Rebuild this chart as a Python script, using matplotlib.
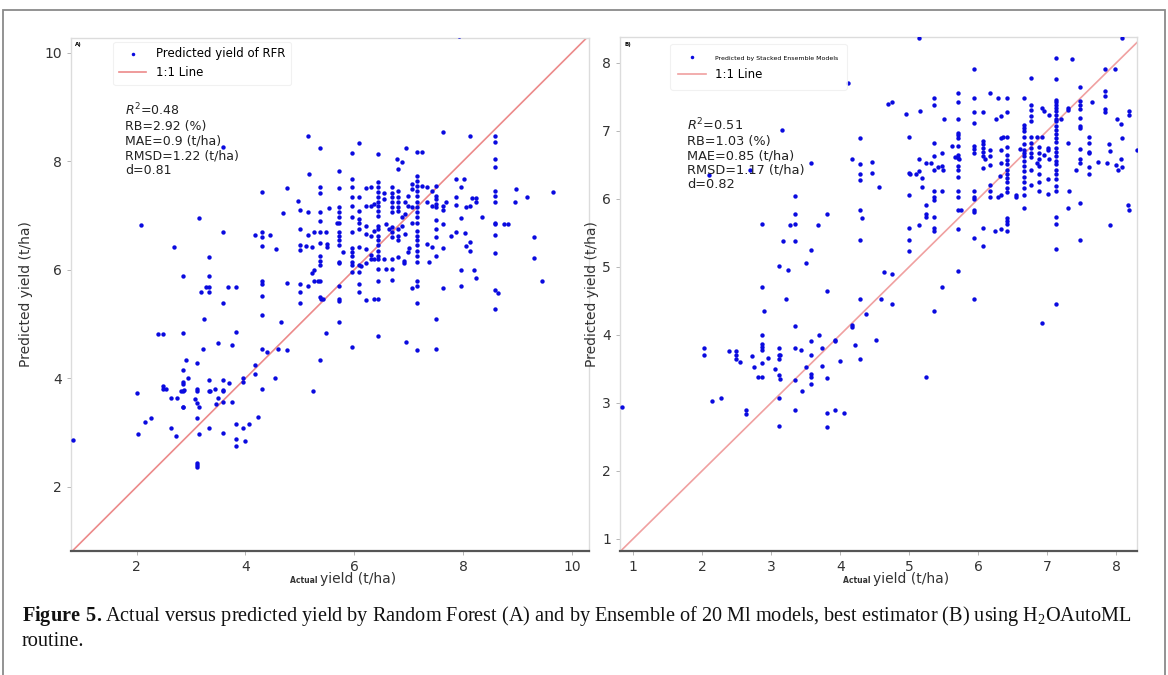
import numpy as np
import matplotlib
matplotlib.use("Agg")
import matplotlib.pyplot as plt
from matplotlib.patches import Rectangle

# (actual, predicted) yield in t/ha
rfr_points = [
    (2.08, 6.83), (3.15, 6.96), (3.58, 6.70), (4.18, 6.64), (4.30, 6.70), (4.30, 6.61),
    (2.69, 6.42), (4.30, 6.43), (3.34, 6.23), (2.86, 5.88), (3.34, 5.88), (4.30, 5.80),
    (4.30, 5.73), (3.28, 5.69), (3.34, 5.68), (3.68, 5.69), (3.82, 5.68), (3.18, 5.59),
    (3.34, 5.59), (4.30, 5.52), (3.58, 5.38), (4.30, 5.16), (3.24, 5.10), (2.39, 4.81),
    (2.49, 4.81), (2.86, 4.83), (3.82, 4.86), (3.50, 4.66), (3.75, 4.61), (3.22, 4.54),
    (4.30, 4.54), (4.39, 4.48), (2.91, 4.33), (3.11, 4.29), (4.18, 4.25), (2.86, 4.15),
    (4.18, 4.08), (2.95, 4.00), (3.34, 3.97), (3.58, 3.97), (3.70, 3.92), (3.95, 4.01),
    (3.95, 3.93), (2.86, 3.94), (2.86, 3.90), (2.49, 3.86), (2.49, 3.80), (2.55, 3.80),
    (2.82, 3.77), (2.85, 3.77), (2.88, 3.79), (3.11, 3.80), (3.11, 3.76), (3.34, 3.77),
    (3.35, 3.76), (3.45, 3.80), (3.58, 3.79), (3.58, 3.76), (4.30, 3.80), (5.25, 3.77),
    (2.01, 3.73), (2.63, 3.64), (2.75, 3.64), (3.07, 3.62), (3.11, 3.55), (3.14, 3.47),
    (2.86, 3.48), (2.86, 3.47), (3.50, 3.63), (3.58, 3.56), (3.75, 3.56), (3.46, 3.52),
    (2.26, 3.27), (2.15, 3.20), (3.11, 3.27), (4.23, 3.29), (2.63, 3.09), (3.34, 3.09),
    (3.82, 3.16), (3.95, 3.09), (4.06, 3.16), (2.03, 2.97), (2.72, 2.94), (3.14, 2.97),
    (3.58, 2.99), (3.82, 2.89), (3.82, 2.76), (4.00, 2.84), (3.11, 2.44), (3.11, 2.40),
    (3.11, 2.37), (0.84, 2.87), (3.58, 8.26), (4.30, 7.43), (7.92, 10.31),
    (5.16, 8.46), (5.38, 8.24), (6.08, 8.33), (5.96, 8.15), (6.44, 8.13), (6.95, 8.24),
    (7.15, 8.17), (7.24, 8.17), (6.79, 8.04), (6.87, 7.98), (6.81, 7.85), (7.64, 8.53),
    (8.12, 8.46), (8.59, 8.46), (8.59, 8.35), (8.59, 8.04), (8.59, 7.89), (5.72, 7.82),
    (5.17, 7.76), (4.77, 7.51), (5.38, 7.53), (5.38, 7.42), (5.72, 7.51), (5.96, 7.68),
    (5.96, 7.52), (5.96, 7.35), (6.08, 7.35), (6.21, 7.51), (6.30, 7.52), (6.44, 7.61),
    (6.44, 7.52), (6.44, 7.43), (6.44, 7.35), (6.44, 7.25), (6.54, 7.42), (6.69, 7.52),
    (6.69, 7.42), (6.69, 7.35), (6.69, 7.25), (6.81, 7.46), (6.81, 7.35), (6.81, 7.25),
    (6.98, 7.36), (7.06, 7.58), (7.06, 7.49), (7.15, 7.64), (7.15, 7.55), (7.15, 7.46),
    (7.15, 7.36), (7.15, 7.24), (7.16, 7.72), (7.24, 7.55), (7.34, 7.52), (7.51, 7.55),
    (7.43, 7.46), (7.51, 7.36), (7.51, 7.30), (7.51, 7.21), (7.51, 7.15), (7.88, 7.68),
    (8.02, 7.68), (7.96, 7.52), (7.88, 7.35), (8.17, 7.33), (8.23, 7.33), (8.23, 7.24),
    (8.59, 7.46), (8.59, 7.36), (8.59, 7.25), (8.97, 7.49), (8.95, 7.25), (9.18, 7.35),
    (9.65, 7.43), (4.97, 7.27), (5.01, 7.11), (5.16, 7.06), (5.38, 7.06), (5.54, 7.13),
    (5.72, 7.15), (5.72, 7.06), (5.72, 6.97), (5.72, 6.87), (5.68, 6.86), (5.96, 7.18),
    (6.08, 7.09), (6.21, 7.18), (6.30, 7.17), (6.36, 7.22), (6.44, 7.17), (6.44, 7.09),
    (6.44, 7.00), (6.54, 7.30), (6.69, 7.15), (6.69, 7.06), (6.81, 7.15), (6.81, 7.09),
    (6.88, 6.97), (6.94, 7.03), (6.94, 7.24), (6.98, 7.18), (7.06, 7.15), (7.15, 7.15),
    (7.15, 7.06), (7.15, 6.97), (7.15, 6.87), (7.34, 7.24), (7.43, 7.18), (7.64, 7.18),
    (7.64, 7.11), (7.69, 7.24), (7.88, 7.19), (8.06, 7.15), (8.12, 7.17), (7.96, 6.95),
    (8.34, 6.97), (4.70, 7.04), (4.46, 6.65), (4.57, 6.39), (5.01, 6.75), (5.16, 6.65),
    (5.26, 6.70), (5.38, 6.89), (5.38, 6.70), (5.38, 6.49), (5.49, 6.70), (5.72, 6.70),
    (5.72, 6.63), (5.72, 6.54), (5.72, 6.45), (5.96, 6.97), (5.96, 6.69), (6.08, 6.94),
    (6.08, 6.86), (6.08, 6.75), (6.21, 6.81), (6.21, 6.66), (6.30, 6.63), (6.36, 6.72),
    (6.44, 6.81), (6.44, 6.75), (6.44, 6.63), (6.44, 6.54), (6.44, 6.45), (6.58, 6.85),
    (6.64, 6.75), (6.69, 6.78), (6.69, 6.69), (6.69, 6.60), (6.81, 6.75), (6.81, 6.63),
    (6.81, 6.54), (6.88, 6.81), (6.94, 6.66), (6.98, 6.32), (7.06, 6.87), (7.15, 6.72),
    (7.15, 6.63), (7.15, 6.54), (7.15, 6.45), (7.15, 6.35), (7.15, 6.26), (7.15, 6.14),
    (7.34, 6.48), (7.43, 6.42), (7.51, 6.91), (7.51, 6.75), (7.51, 6.60), (7.64, 6.85),
    (7.64, 6.40), (7.78, 6.62), (7.88, 6.70), (8.04, 6.68), (8.06, 6.43), (8.12, 6.52),
    (8.12, 6.34), (8.59, 6.87), (8.59, 6.84), (8.75, 6.85), (8.83, 6.85), (8.59, 6.65),
    (8.59, 6.31), (9.30, 6.60), (9.30, 6.22), (5.01, 6.45), (5.01, 6.37), (5.11, 6.43),
    (5.22, 6.42), (5.50, 6.48), (5.50, 6.42), (5.79, 6.32), (5.96, 6.40), (5.96, 6.32),
    (5.96, 6.25), (6.08, 6.42), (6.21, 6.39), (6.30, 6.27), (6.44, 6.34), (6.44, 6.26),
    (6.30, 6.19), (6.36, 6.19), (6.44, 6.19), (6.54, 6.19), (6.69, 6.19), (6.81, 6.23),
    (6.91, 6.17), (6.91, 6.12), (7.01, 6.40), (7.37, 6.14), (7.51, 6.25), (5.38, 6.26),
    (5.38, 6.17), (5.38, 6.09), (5.72, 6.15), (5.72, 6.12), (5.96, 6.14), (5.96, 6.09),
    (6.08, 6.08), (6.12, 6.07), (6.21, 6.12), (5.96, 5.96), (6.08, 5.96), (5.22, 5.95),
    (5.26, 6.00), (6.44, 6.02), (6.58, 6.02), (6.69, 6.02), (7.96, 6.00), (8.21, 6.00),
    (4.77, 5.76), (5.01, 5.74), (5.16, 5.70), (5.26, 5.79), (5.34, 5.80), (5.38, 5.79),
    (6.08, 5.74), (6.08, 5.60), (6.44, 5.80), (6.69, 5.82), (7.06, 5.67), (7.15, 5.79),
    (7.15, 5.70), (7.64, 5.67), (7.96, 5.70), (8.23, 5.85), (8.59, 5.62), (8.65, 5.57),
    (9.46, 5.80), (5.01, 5.60), (5.01, 5.38), (5.38, 5.50), (5.39, 5.46), (5.43, 5.46),
    (5.72, 5.71), (5.72, 5.46), (5.72, 5.42), (6.21, 5.44), (6.36, 5.46), (6.44, 5.46),
    (7.15, 5.39), (8.59, 5.27), (4.66, 5.04), (5.72, 5.04), (7.51, 5.10), (5.49, 4.84),
    (6.44, 4.78), (5.96, 4.57), (6.95, 4.67), (7.15, 4.52), (7.51, 4.55), (4.60, 4.55),
    (4.77, 4.52), (5.38, 4.33), (4.54, 4.01),
]

ensemble_points = [
    (3.34, 6.04), (3.34, 5.77), (3.81, 5.77), (4.29, 5.84), (4.31, 5.72), (2.87, 5.63),
    (3.28, 5.62), (3.34, 5.63), (3.68, 5.62), (3.17, 5.38), (3.34, 5.38), (4.29, 5.39),
    (3.57, 5.25), (3.50, 5.05), (3.11, 5.01), (3.24, 4.95), (4.64, 4.93), (2.87, 4.71),
    (3.81, 4.64), (3.22, 4.52), (4.29, 4.52), (4.59, 4.52), (2.90, 4.35), (4.38, 4.31),
    (3.34, 4.13), (4.17, 4.14), (4.17, 4.11), (2.87, 3.99), (3.70, 3.99), (3.93, 3.93),
    (3.93, 3.91), (3.57, 3.91), (4.52, 3.93), (2.02, 3.80), (2.03, 3.70), (2.39, 3.76),
    (2.49, 3.76), (2.49, 3.70), (2.49, 3.64), (2.55, 3.60), (2.72, 3.69), (2.87, 3.86),
    (2.87, 3.82), (2.87, 3.78), (3.11, 3.80), (3.34, 3.80), (3.43, 3.78), (3.73, 3.80),
    (4.22, 3.85), (2.95, 3.66), (3.11, 3.71), (3.13, 3.70), (3.11, 3.64), (3.57, 3.71),
    (2.87, 3.58), (2.75, 3.53), (3.06, 3.50), (3.50, 3.53), (3.73, 3.54), (3.99, 3.61),
    (4.29, 3.64), (2.81, 3.38), (2.87, 3.38), (3.11, 3.41), (3.13, 3.35), (3.34, 3.34),
    (3.57, 3.42), (3.57, 3.38), (3.81, 3.37), (3.45, 3.18), (3.57, 3.27), (2.15, 3.03),
    (2.28, 3.07), (3.11, 3.07), (2.63, 2.90), (2.63, 2.84), (3.34, 2.89), (3.81, 2.85),
    (3.93, 2.89), (4.05, 2.85), (3.11, 2.66), (3.81, 2.64), (0.84, 2.94),
    (4.11, 7.70), (3.15, 7.01), (4.29, 6.89), (3.57, 6.52), (4.17, 6.59), (4.29, 6.51),
    (4.46, 6.54), (4.29, 6.37), (4.46, 6.38), (4.29, 6.28), (4.56, 6.18), (2.70, 6.43),
    (2.10, 6.35),
    (4.75, 4.46), (5.36, 4.35), (7.12, 4.46), (6.93, 4.17), (5.24, 3.38),
    (5.14, 8.36), (8.08, 8.36), (5.94, 7.91), (7.12, 8.07), (7.36, 8.05), (6.77, 7.77),
    (7.12, 7.76), (7.83, 7.91), (7.98, 7.91), (4.69, 7.40), (4.75, 7.43), (4.95, 7.25),
    (5.15, 7.29), (5.36, 7.49), (5.36, 7.38), (5.70, 7.56), (5.70, 7.43), (5.70, 7.18),
    (5.94, 7.49), (5.94, 7.28), (6.07, 7.28), (5.94, 7.11), (6.17, 7.56), (6.28, 7.49),
    (6.42, 7.49), (6.33, 7.22), (6.42, 7.28), (6.26, 7.17), (6.66, 7.49), (6.77, 7.38),
    (6.77, 7.31), (6.77, 7.22), (6.77, 7.15), (6.93, 7.33), (6.95, 7.29), (7.12, 7.45),
    (7.12, 7.42), (7.12, 7.38), (7.12, 7.33), (7.12, 7.29), (7.12, 7.24), (7.12, 7.18),
    (7.12, 7.15), (7.12, 7.07), (7.12, 7.01), (7.12, 6.95), (7.12, 6.90), (7.12, 6.84),
    (7.12, 6.75), (7.12, 6.69), (7.12, 6.63), (7.12, 6.56), (7.12, 6.51), (7.12, 6.43),
    (7.12, 6.36), (7.12, 6.29), (7.12, 6.19), (7.12, 6.12), (7.03, 7.24), (7.20, 7.18),
    (7.30, 7.31), (7.30, 7.34), (7.48, 7.65), (7.48, 7.44), (7.48, 7.38), (7.48, 7.32),
    (7.48, 7.19), (7.48, 7.07), (7.48, 7.04), (7.65, 7.43), (7.83, 7.58), (7.83, 7.51),
    (7.83, 7.32), (7.83, 7.28), (8.01, 7.17), (8.07, 7.10), (8.18, 7.29), (8.19, 7.23),
    (5.51, 7.17), (5.00, 6.91), (5.36, 6.82), (5.70, 6.97), (5.70, 6.94), (5.70, 6.89),
    (5.62, 6.78), (5.70, 6.78), (5.48, 6.67), (5.36, 6.63), (5.14, 6.59), (5.24, 6.52),
    (5.31, 6.52), (5.36, 6.43), (5.42, 6.47), (5.47, 6.48), (5.49, 6.43), (5.00, 6.38),
    (5.01, 6.36), (5.10, 6.36), (5.14, 6.41), (5.19, 6.31), (5.70, 6.65), (5.70, 6.60),
    (5.66, 6.61), (5.72, 6.58), (5.70, 6.48), (5.70, 6.42), (5.70, 6.32), (5.94, 6.78),
    (5.94, 6.73), (5.94, 6.67), (6.07, 6.85), (6.07, 6.80), (6.07, 6.75), (6.07, 6.69),
    (6.07, 6.63), (6.10, 6.59), (6.17, 6.72), (6.17, 6.63), (6.07, 6.45), (6.17, 6.50),
    (6.33, 6.89), (6.36, 6.91), (6.42, 6.91), (6.42, 6.76), (6.33, 6.72), (6.42, 6.64),
    (6.42, 6.57), (6.42, 6.51), (6.33, 6.52), (6.42, 6.42), (6.42, 6.36), (6.42, 6.31),
    (6.42, 6.24), (6.42, 6.16), (6.42, 6.10), (6.31, 6.34), (6.33, 6.06), (6.28, 6.02),
    (6.17, 6.12), (6.17, 6.02), (5.94, 6.12), (5.94, 6.02), (6.66, 7.09), (6.66, 7.04),
    (6.66, 7.00), (6.66, 6.91), (6.66, 6.80), (6.60, 6.74), (6.66, 6.72), (6.66, 6.67),
    (6.66, 6.63), (6.66, 6.56), (6.66, 6.48), (6.66, 6.41), (6.66, 6.32), (6.66, 6.24),
    (6.66, 6.16), (6.66, 6.06), (6.66, 5.87), (6.54, 6.06), (6.54, 6.03), (6.77, 6.91),
    (6.77, 6.82), (6.77, 6.75), (6.77, 6.68), (6.77, 6.61), (6.85, 6.91), (6.93, 6.91),
    (6.88, 6.76), (6.88, 6.68), (6.95, 6.65), (7.01, 6.75), (7.01, 6.72), (7.03, 6.59),
    (6.88, 6.59), (6.85, 6.53), (6.88, 6.48), (6.88, 6.37), (6.77, 6.42), (6.77, 6.20),
    (6.88, 6.24), (6.88, 6.12), (7.01, 6.29), (7.01, 6.07), (7.30, 6.82), (7.48, 6.73),
    (7.48, 6.58), (7.48, 6.52), (7.41, 6.43), (7.60, 6.91), (7.60, 6.82), (7.60, 6.69),
    (7.60, 6.67), (7.60, 6.47), (7.60, 6.36), (7.73, 6.54), (7.86, 6.52), (7.89, 6.80),
    (7.91, 6.70), (8.00, 6.50), (8.02, 6.43), (8.07, 6.59), (8.08, 6.47), (8.08, 6.89),
    (8.30, 6.72), (7.32, 6.12), (7.30, 5.87), (7.48, 5.94), (5.00, 6.06), (5.19, 6.17),
    (5.36, 6.11), (5.36, 6.02), (5.36, 5.98), (5.24, 5.91), (5.24, 5.78), (5.24, 5.73),
    (5.36, 5.73), (5.36, 5.57), (5.36, 5.53), (5.14, 5.62), (5.00, 5.57), (5.00, 5.40),
    (5.00, 5.23), (5.47, 6.12), (5.70, 6.12), (5.70, 6.02), (5.70, 5.84), (5.75, 5.84),
    (5.70, 5.56), (5.94, 5.99), (5.94, 5.84), (5.94, 5.80), (5.94, 5.43), (6.07, 5.57),
    (6.07, 5.30), (6.17, 6.21), (6.24, 5.53), (6.33, 5.56), (6.42, 5.72), (6.42, 5.68),
    (6.42, 5.63), (6.42, 5.53), (7.12, 5.73), (7.12, 5.63), (7.12, 5.26), (7.48, 5.40),
    (7.91, 5.62), (8.17, 5.91), (8.19, 5.83), (4.75, 4.90), (5.70, 4.94), (5.47, 4.71),
    (5.94, 4.52),
]

rfr_stats = "$R^2$=0.48\nRB=2.92 (%)\nMAE=0.9 (t/ha)\nRMSD=1.22 (t/ha)\nd=0.81"
ens_stats = "$R^2$=0.51\nRB=1.03 (%)\nMAE=0.85 (t/ha)\nRMSD=1.17 (t/ha)\nd=0.82"
caption_1 = (r"$\mathbf{Figure\ 5.}$Actual versus predicted yield by Random Forest (A) and by "
             r"Ensemble of 20 Ml models, best estimator (B) using H$_2$OAutoML")
caption_2 = "routine."

plt.rcParams['mathtext.rm'] = 'Liberation Serif'
plt.rcParams['mathtext.bf'] = 'Liberation Serif:bold'

W, H = 1168, 675
fig = plt.figure(figsize=(W / 100, H / 100), dpi=100)
fig.patch.set_facecolor('white')

# outer frame of the figure box
fig.add_artist(Rectangle((3 / W, -0.05), 1162 / W, 1 - 10 / H + 0.05, transform=fig.transFigure,
                         fill=False, edgecolor='#8a8a8a', linewidth=1.3))

ax1 = fig.add_axes([70.7 / W, 1 - 551 / H, 518 / W, 513 / H])
ax2 = fig.add_axes([620 / W, 1 - 551 / H, 517 / W, 514 / H])


def style(ax, lo, hi, ticks, pad):
    ax.set_xlim(lo[0], hi[0])
    ax.set_ylim(lo[1], hi[1])
    ax.set_xticks(ticks)
    ax.set_yticks(ticks)
    for side in ['left', 'top', 'right']:
        ax.spines[side].set_color('#dcdcdc')
        ax.spines[side].set_linewidth(1.0)
    ax.spines['bottom'].set_color('#555555')
    ax.spines['bottom'].set_linewidth(1.6)
    ax.tick_params(labelsize=10, colors='#333333', length=3, width=0.6)
    ax.tick_params(axis='both', color='#aaaaaa')
    ax.set_ylabel('Predicted yield (t/ha)', fontsize=10, color='#333333', labelpad=pad)


style(ax1, (0.79, 0.82), (10.31, 10.27), [2, 4, 6, 8, 10], 8)
style(ax2, (0.81, 0.82), (8.30, 8.38), [1, 2, 3, 4, 5, 6, 7, 8], 2)

ra, rp = zip(*rfr_points)
ea, ep = zip(*ensemble_points)

ax1.scatter(ra, rp, s=10, color='#0a0adf', linewidths=0, label='Predicted yield of RFR', zorder=3)
ax1.plot([0.79, 10.31], [0.79, 10.31], color='#ec8a8a', lw=1.2, label='1:1 Line', zorder=2)
ax2.scatter(ea, ep, s=10, color='#0a0adf', linewidths=0, label='Predicted by Stacked Ensemble Models', zorder=3)
ax2.plot([0.81, 8.38], [0.81, 8.38], color='#f0a0a0', lw=1.2, label='1:1 Line', zorder=2)

leg1 = ax1.legend(loc='upper left', bbox_to_anchor=(0.082, 0.993), borderaxespad=0, fontsize=8.5,
                  frameon=True, markerscale=0.8, handlelength=2.3, borderpad=0.5, labelspacing=0.5)
leg1.get_frame().set_edgecolor('#eeeeee')
leg1.get_frame().set_linewidth(0.8)

leg2 = ax2.legend(loc='upper left', bbox_to_anchor=(0.097, 0.987), borderaxespad=0, fontsize=8.5,
                  frameon=True, markerscale=0.8, handlelength=2.3, borderpad=0.7, labelspacing=0.6)
leg2.get_frame().set_edgecolor('#eeeeee')
leg2.get_frame().set_linewidth(0.8)
leg2.get_texts()[0].set_fontsize(4.5)

ax1.text(0.105, 0.875, rfr_stats, transform=ax1.transAxes, fontsize=9, va='top', ha='left',
         color='#222222', linespacing=1.15)
ax2.text(0.13, 0.845, ens_stats, transform=ax2.transAxes, fontsize=9.3, va='top', ha='left',
         color='#222222', linespacing=1.15)

ax1.text(0.008, 0.992, 'A)', transform=ax1.transAxes, fontsize=4, weight='bold', va='top')
ax2.text(0.008, 0.990, 'B)', transform=ax2.transAxes, fontsize=4, weight='bold', va='top')

for ax, split in [(ax1, 0.482), (ax2, 0.49)]:
    ax.text(split, -0.062, 'Actual ', transform=ax.transAxes, fontsize=5.5, weight='bold',
            ha='right', va='baseline', color='#333333')
    ax.text(split, -0.062, 'yield (t/ha)', transform=ax.transAxes, fontsize=10,
            ha='left', va='baseline', color='#333333')

fig.text(22 / W, 1 - 616 / H, caption_1, fontsize=14.6, family='Liberation Serif',
         math_fontfamily='custom', va='center', ha='left', color='#111111')
fig.text(22 / W, 1 - 642 / H, caption_2, fontsize=14.6, family='Liberation Serif',
         va='center', ha='left', color='#111111')

fig.savefig('out.png', dpi=100)
